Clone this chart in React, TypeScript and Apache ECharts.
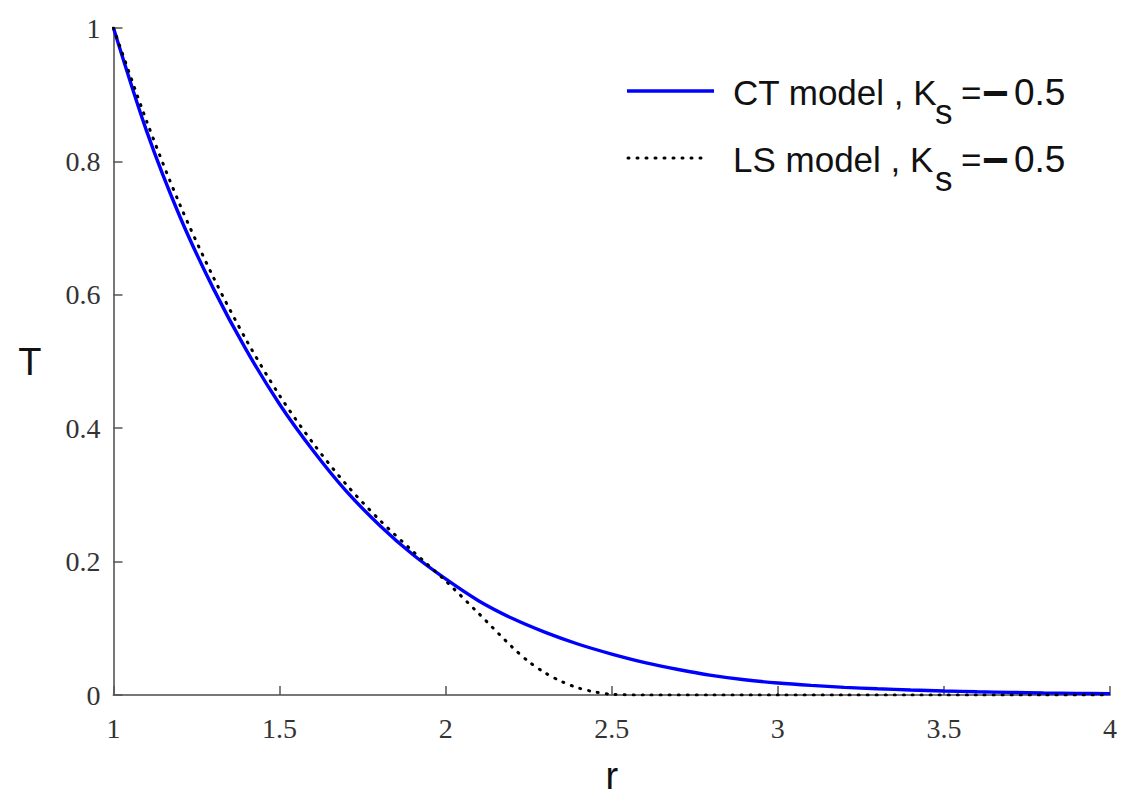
import React, { useEffect, useRef } from "react";
import * as echarts from "echarts";

const ctR = [1.0, 1.1, 1.2, 1.3, 1.4, 1.5, 1.6, 1.7, 1.8, 1.9, 2.0, 2.1, 2.2, 2.3, 2.4, 2.5, 2.6, 2.7, 2.8, 2.9, 3.0, 3.1, 3.2, 3.3, 3.4, 3.5, 3.6, 3.7, 3.8, 3.9, 4.0];
const ctT = [1.0, 0.845, 0.717, 0.610, 0.517, 0.436, 0.367, 0.306, 0.255, 0.211, 0.174, 0.141, 0.115, 0.0939, 0.0761, 0.0614, 0.0486, 0.0382, 0.0294, 0.0228, 0.018, 0.0144, 0.0115, 0.0093, 0.0075, 0.006, 0.0048, 0.0039, 0.0031, 0.0025, 0.002];

const lsR = [1.0, 1.1, 1.2, 1.3, 1.4, 1.5, 1.6, 1.7, 1.8, 1.9, 2.0, 2.1, 2.2, 2.25, 2.3, 2.35, 2.4, 2.45, 2.5, 2.6, 2.8, 3.0, 3.2, 3.4, 3.6, 3.8, 4.0];
const lsT = [1.0, 0.860, 0.735, 0.627, 0.532, 0.449, 0.378, 0.316, 0.263, 0.216, 0.171, 0.122, 0.072, 0.050, 0.033, 0.020, 0.0105, 0.0045, 0.001, 0, 0, 0, 0, 0, 0, 0, 0];

const xTicks = ["1", "1.5", "2", "2.5", "3", "3.5", "4"];
const yTicks = ["0", "0.2", "0.4", "0.6", "0.8", "1"];

const ctName = "CT model , K";
const lsName = "LS model , K";

export default function App() {
  const ref = useRef<HTMLDivElement>(null);
  useEffect(() => {
    if (!ref.current) return;
    const chart = echarts.init(ref.current, null, { renderer: "svg" });
    const serif = "Liberation Serif";
    const sans = "Liberation Sans";
    const legText = (x: number, y: number, t: string, size = 35, weight = "normal") => ({
      type: "text",
      x,
      y,
      style: { text: t, font: `${weight} ${size}px ${sans}`, fill: "#111", textAlign: "left", textVerticalAlign: "middle" },
    });
    const rowLegend = (y: number, name: string) => [
      legText(733, y, name),
      legText(935, y + 19, "s"),
      legText(961, y, "="),
      legText(982, y + 1, "\u2212", 46, "bold"),
      legText(1014, y, "0.5", 37),
    ];
    chart.setOption({
      animation: false,
      backgroundColor: "#fff",
      grid: { left: 113.5, right: 13, top: 28, bottom: 107 },
      xAxis: {
        type: "value",
        min: 1,
        max: 4,
        interval: 0.5,
        name: "r",
        nameLocation: "middle",
        nameGap: 62,
        nameTextStyle: { fontFamily: sans, fontSize: 38, color: "#111" },
        axisLine: { lineStyle: { color: "#777", width: 2 } },
        axisTick: { inside: true, length: 9, lineStyle: { color: "#555", width: 1.5 } },
        axisLabel: {
          fontFamily: serif,
          fontSize: 28,
          color: "#333",
          margin: 19,
          formatter: (v: number) => xTicks[Math.round((v - 1) / 0.5)] ?? String(v),
        },
        splitLine: { show: false },
      },
      yAxis: {
        type: "value",
        min: 0,
        max: 1,
        interval: 0.2,
        name: "T",
        nameLocation: "middle",
        nameRotate: 0,
        nameGap: 72,
        nameTextStyle: { fontFamily: sans, fontSize: 38, color: "#111" },
        axisLine: { show: true, lineStyle: { color: "#777", width: 2 } },
        axisTick: { show: true, inside: true, length: 9, lineStyle: { color: "#555", width: 1.5 } },
        axisLabel: {
          fontFamily: serif,
          fontSize: 28,
          color: "#333",
          margin: 13,
          formatter: (v: number) => yTicks[Math.round(v / 0.2)] ?? String(v),
        },
        splitLine: { show: false },
      },
      series: [
        {
          name: ctName,
          type: "line",
          data: ctR.map((r, i) => [r, ctT[i]]),
          smooth: 0.3,
          showSymbol: false,
          lineStyle: { color: "#0000ff", width: 3.4 },
          z: 2,
        },
        {
          name: lsName,
          type: "line",
          data: lsR.map((r, i) => [r, lsT[i]]),
          smooth: 0.3,
          showSymbol: false,
          lineStyle: { color: "#000", width: 3, type: [1, 8], cap: "round" },
          z: 3,
        },
      ],
      graphic: [
        { type: "line", shape: { x1: 627, y1: 91, x2: 714, y2: 91 }, style: { stroke: "#0000ff", lineWidth: 3.4 } },
        { type: "line", shape: { x1: 628, y1: 158, x2: 708, y2: 158 }, style: { stroke: "#000", lineWidth: 3, lineDash: [1, 8], lineCap: "round" } },
        ...rowLegend(92, ctName),
        ...rowLegend(159, lsName),
      ],
    });
    return () => chart.dispose();
  }, []);
  return <div ref={ref} style={{ position: "fixed", left: 0, top: 0, width: 1123, height: 802 }} />;
}
